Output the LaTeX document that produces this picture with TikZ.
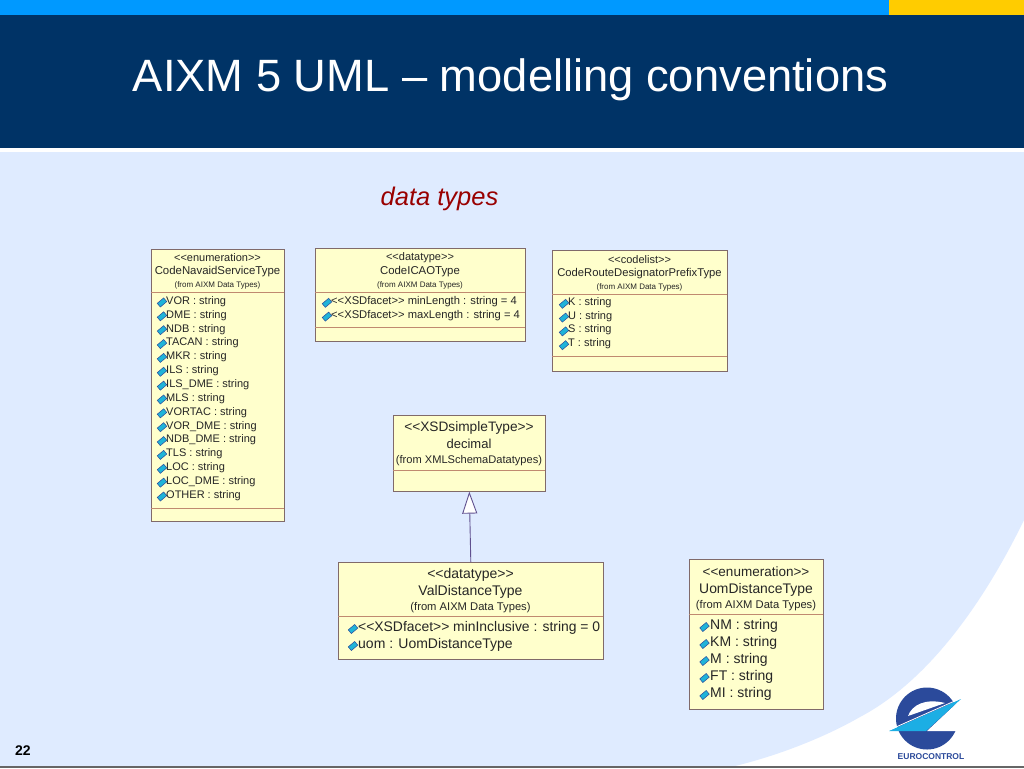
\documentclass[tikz,border=0pt]{standalone}
\usepackage{fontspec}
\setmainfont{Liberation Sans}
\usetikzlibrary{arrows.meta}

\definecolor{navyband}{HTML}{003366}
\definecolor{skyband}{HTML}{0099FF}
\definecolor{goldband}{HTML}{FFCC00}
\definecolor{paleback}{HTML}{DFEBFF}
\definecolor{umlfill}{HTML}{FFFFCC}
\definecolor{umlline}{HTML}{806A6A}
\definecolor{umlrule}{HTML}{C08A70}
\definecolor{logoblue}{HTML}{2B4A9B}
\definecolor{logocyan}{HTML}{1CAEE4}
\definecolor{markcyan}{HTML}{1FB4D8}

\tikzset{
    umlbox/.style={draw=umlline, fill=umlfill, semithick, inner sep=0pt, anchor=north west},
    umlrule/.style={draw=umlrule, semithick},
    stereo/.style={inner sep=0pt, text=black!85, font=\fontsize{#1}{#1}\selectfont},
    attrib/.style={inner sep=0pt, anchor=west, text=black!85, font=\fontsize{#1}{#1}\selectfont},
    attrmark/.pic={
        \draw[fill=markcyan, draw=logoblue, line width=0.5pt, rotate=40]
            (-4.2,-2.4) rectangle (4.2,2.4);
    },
}

\begin{document}
\begin{tikzpicture}[x=1pt, y=-1pt, >=stealth]
    \useasboundingbox (0,0) rectangle (1024,768);

    % slide background
    \fill[white] (0,0) rectangle (1024,768);
    \fill[paleback] (0,152) -- (1024,152) -- (1024,520)
        .. controls (985,600) and (930,680) .. (860,717)
        .. controls (825,737) and (780,755) .. (735,766) -- (0,766) -- cycle;
    \fill[navyband] (0,15) rectangle (1024,148);
    \fill[skyband] (0,0) rectangle (889,15);
    \fill[goldband] (889,0) rectangle (1024,15);
    \fill[black!60] (0,766) rectangle (1024,768);

    \node[text=white, inner sep=0pt, font=\fontsize{45.3}{46}\selectfont] (title) at (510.5,79.5)
        {AIXM 5 UML – modelling conventions};
    \node[text=red!60!black, inner sep=0pt, font=\fontsize{25.5}{26}\selectfont\itshape] (subtitle) at (439.5,199)
        {data types};
    \node[text=black, inner sep=0pt, font=\fontsize{14}{14}\selectfont\bfseries] (pagenum) at (23,751) {22};

    % class boxes
    \node[umlbox, minimum width=133pt, minimum height=272pt] (navaid) at (151,249) {};
    \node[umlbox, minimum width=210pt, minimum height=93pt] (icao) at (315,248) {};
    \node[umlbox, minimum width=175pt, minimum height=121pt] (route) at (552,250) {};
    \node[umlbox, minimum width=152pt, minimum height=76pt] (decimal) at (393,415) {};
    \node[umlbox, minimum width=265pt, minimum height=97pt] (valdist) at (338,562) {};
    \node[umlbox, minimum width=134pt, minimum height=150pt] (uomdist) at (689,559) {};

    \draw[umlrule] (151,292) -- (284,292);
    \draw[umlrule] (151,508) -- (284,508);
    \draw[umlrule] (315,292) -- (525,292);
    \draw[umlrule] (315,327) -- (525,327);
    \draw[umlrule] (552,294) -- (727,294);
    \draw[umlrule] (552,356) -- (727,356);
    \draw[umlrule] (393,470) -- (545,470);
    \draw[umlrule] (338,616) -- (603,616);
    \draw[umlrule] (689,614) -- (823,614);

    % generalisation
    \draw[-{Triangle[open, fill=white, length=22pt, width=15pt]}, draw=umlline!75!blue, line width=0.9pt]
        (valdist.north) -- (decimal.south);

    % headers
    \node[stereo=11] (navaidA) at (217.5,258) {<{}<enumeration>{}>};
    \node[stereo=11.4] (navaidB) at (217.5,272) {CodeNavaidServiceType};
    \node[stereo=8] (navaidC) at (217.5,285.5) {(from AIXM Data Types)};

    \node[stereo=11] (icaoA) at (420,258) {<{}<datatype>{}>};
    \node[stereo=11.4] (icaoB) at (420,272) {CodeICAOType};
    \node[stereo=8] (icaoC) at (420,285.5) {(from AIXM Data Types)};

    \node[stereo=11] (routeA) at (639.5,260) {<{}<codelist>{}>};
    \node[stereo=11.25] (routeB) at (639.5,274) {CodeRouteDesignatorPrefixType};
    \node[stereo=8] (routeC) at (639.5,287.5) {(from AIXM Data Types)};

    \node[stereo=13.7] (decimalA) at (469,428) {<{}<XSDsimpleType>{}>};
    \node[stereo=13] (decimalB) at (469,444) {decimal};
    \node[stereo=11.1] (decimalC) at (469,460.5) {(from XMLSchemaDatatypes)};

    \node[stereo=14] (valdistA) at (470.5,575) {<{}<datatype>{}>};
    \node[stereo=14] (valdistB) at (470.5,591.5) {ValDistanceType};
    \node[stereo=11.2] (valdistC) at (470.5,608) {(from AIXM Data Types)};

    \node[stereo=13.5] (uomdistA) at (756,572) {<{}<enumeration>{}>};
    \node[stereo=13.9] (uomdistB) at (756,590) {UomDistanceType};
    \node[stereo=11.2] (uomdistC) at (756,606) {(from AIXM Data Types)};

    % attributes
    \foreach \txt [count=\i] in {VOR,DME,NDB,TACAN,MKR,ILS,ILS\_DME,MLS,VORTAC,VOR\_DME,NDB\_DME,TLS,LOC,LOC\_DME,OTHER} {
        \pic at (162,288.6+13.86*\i) {attrmark};
        \node[attrib=11] (navaid\i) at (166,287.6+13.86*\i) {\txt{} : string};
    }
    \foreach \txt [count=\i] in {minLength,maxLength} {
        \pic at (327,289+13.8*\i) {attrmark};
        \node[attrib=11.2] (icao\i) at (331,287.6+13.8*\i) {<{}<XSDfacet>{}> \txt{} : string = 4};
    }
    \foreach \txt [count=\i] in {K,U,S,T} {
        \pic at (564,290+13.8*\i) {attrmark};
        \node[attrib=11] (route\i) at (568,288.6+13.8*\i) {\txt{} : string};
    }
    \pic at (353,629) {attrmark};
    \node[attrib=13.9] (valdist1) at (358,627.5) {<{}<XSDfacet>{}> minInclusive : string = 0};
    \pic at (353,646) {attrmark};
    \node[attrib=14] (valdist2) at (358,645) {uom : UomDistanceType};

    \foreach \txt [count=\i] in {NM,KM,M,FT,MI} {
        \pic at (704.5,610+17*\i) {attrmark};
        \node[attrib=14] (uomdist\i) at (710,608.5+17*\i) {\txt{} : string};
    }

    % logo
    \fill[logoblue] (927,718.5) circle (31);
    \fill[white] (908,716) .. controls (912,705) and (925,698) .. (945,703) -- cycle;
    \fill[white] (961,699) -- (975,699) -- (975,731) -- (927,731) -- cycle;
    \fill[logocyan] (961,699) -- (889,731) -- (926,731) -- cycle;
    \draw[white, line width=0.8pt] (891,729.2) -- (958,699.5);
    \node[text=logoblue, inner sep=0pt, font=\fontsize{8.5}{9}\selectfont\bfseries] (logotext) at (931,757) {EUROCONTROL};
\end{tikzpicture}
\end{document}
